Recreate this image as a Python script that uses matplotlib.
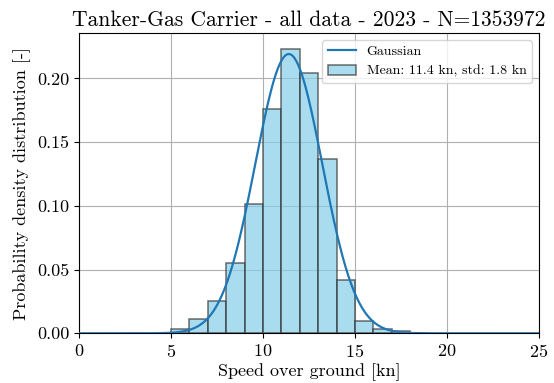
import numpy as np
from matplotlib import pyplot as plt

plt.rcParams['font.family'] = 'serif'
plt.rcParams['font.serif'] = ['cmr10', 'DejaVu Serif']
plt.rcParams['mathtext.fontset'] = 'cm'
plt.rcParams['axes.formatter.use_mathtext'] = True

# histogram (bin edges in kn, density per bin)
bin_edges = [5, 6, 7, 8, 9, 10, 11, 12, 13, 14, 15, 16, 17, 18, 19]
density = [0.0034, 0.0113, 0.0252, 0.0549, 0.1013, 0.176, 0.2234, 0.204,
           0.137, 0.0417, 0.010, 0.0030, 0.0015, 0.0005]

mean_kn = 11.4
std_kn = 1.82


def main():
    fig = plt.figure(figsize=(5.54, 3.83), dpi=100)
    ax = fig.add_axes([0.1426, 0.1298, 0.8304, 0.784])

    ax.grid(True, color='#b0b0b0', linewidth=0.8, zorder=0)
    ax.set_axisbelow(True)

    x = np.linspace(0, 25, 500)
    y = np.exp(-0.5 * ((x - mean_kn) / std_kn) ** 2) / (std_kn * np.sqrt(2 * np.pi))
    ax.plot(x, y, color='tab:blue', linewidth=1.6, label='Gaussian', zorder=3)

    ax.hist(bin_edges[:-1], bins=bin_edges, weights=density,
            color='skyblue', alpha=0.7, edgecolor='#303030', linewidth=1.1,
            label='Mean: %.1f kn, std: %.1f kn' % (mean_kn, 1.8), zorder=2)

    ax.set_xlim(0, 25)
    ax.set_ylim(0, 0.2357)
    ax.set_yticks([0, 0.05, 0.10, 0.15, 0.20])
    ax.set_yticklabels(['0.00', '0.05', '0.10', '0.15', '0.20'])
    ax.tick_params(labelsize=13)

    ax.set_xlabel('Speed over ground [kn]', fontsize=13, labelpad=2)
    ax.set_ylabel('Probability density distribution [-]', fontsize=13)
    ax.set_title('Tanker-Gas Carrier - all data - 2023 - N=1353972', fontsize=15.5, pad=5)
    ax.legend(loc='upper right', fontsize=10)

    fig.savefig('out.png', dpi=100)


if __name__ == '__main__':
    main()
